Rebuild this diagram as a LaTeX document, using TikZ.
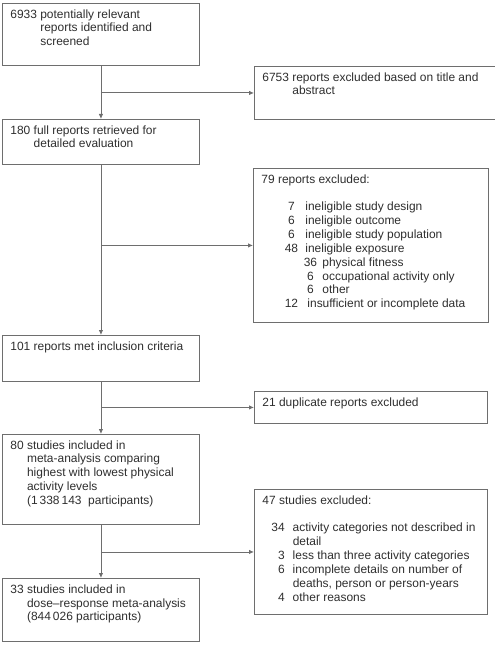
\documentclass[tikz,border=0pt]{standalone}
\usepackage{fontspec}
\setmainfont{Liberation Sans}
\usetikzlibrary{arrows.meta}

\definecolor{linegray}{HTML}{6E6E6E}
\definecolor{textgray}{HTML}{2E2E2E}

% box text, top aligned: width, height, body
\newcommand{\flowtext}[3]{\parbox[t][#2][t]{#1}{#3}}
% one excluded item: indent, number, text
\newcommand{\exitem}[4]{\hspace*{#1}\makebox[20bp][c]{#2}\hspace{#3}#4}

\tikzset{
  flowbox/.style={draw=linegray, line width=0.9bp, rectangle, anchor=north west,
    inner xsep=8bp, inner ysep=5bp, text=textgray, font=\fontsize{12}{13.9}\selectfont},
  flowarrow/.style={draw=linegray, line width=0.9bp, -{Latex[length=5bp, width=4.5bp]}}
}

\begin{document}
\begin{tikzpicture}[x=1bp, y=-1bp]
\useasboundingbox (0,0) rectangle (495,652);

% main column
\node[flowbox] at (2,3) (ident) {\flowtext{181bp}{52bp}{%
  \begin{tabular}[t]{@{}r@{ }l@{}}6933 & potentially relevant\\ & reports identified and\\ & screened\end{tabular}}};
\node[flowbox] at (2,119) (full) {\flowtext{181bp}{35bp}{%
  \begin{tabular}[t]{@{}r@{ }l@{}}180 & full reports retrieved for\\ & detailed evaluation\end{tabular}}};
\node[flowbox] at (2,335) (met) {\flowtext{181bp}{36bp}{%
  \begin{tabular}[t]{@{}l@{}}101 reports met inclusion criteria\end{tabular}}};
\node[flowbox] at (2,434) (hilo) {\flowtext{181bp}{80bp}{%
  \begin{tabular}[t]{@{}r@{ }l@{}}80 & studies included in\\ & meta-analysis comparing\\ & highest with lowest physical\\ & activity levels\\ & (1\,338\,143\ \ participants)\end{tabular}}};
\node[flowbox] at (2,578) (dose) {\flowtext{181bp}{53bp}{%
  \begin{tabular}[t]{@{}r@{ }l@{}}33 & studies included in\\ & dose--response meta-analysis\\ & (844\,026 participants)\end{tabular}}};

% excluded column
\node[flowbox] at (254,66) (exttl) {\flowtext{227bp}{43bp}{%
  \begin{tabular}[t]{@{}r@{ }l@{}}6753 & reports excluded based on title and\\ & abstract\end{tabular}}};
\node[flowbox] at (253,168) (exfull) {\flowtext{219bp}{144bp}{%
  \begin{tabular}[t]{@{}l@{}}79 reports excluded:\\
  \\
  \exitem{20bp}{7}{4bp}{ineligible study design}\\
  \exitem{20bp}{6}{4bp}{ineligible outcome}\\
  \exitem{20bp}{6}{4bp}{ineligible study population}\\
  \exitem{20bp}{48}{4bp}{ineligible exposure}\\
  \exitem{39bp}{36}{2bp}{physical fitness}\\
  \exitem{39bp}{6}{2bp}{occupational activity only}\\
  \exitem{39bp}{6}{2bp}{other}\\
  \exitem{20bp}{12}{6bp}{insufficient or incomplete data}\end{tabular}}};
\node[flowbox] at (254,391) (dup) {\flowtext{217bp}{22bp}{%
  \begin{tabular}[t]{@{}l@{}}21 duplicate reports excluded\end{tabular}}};
\node[flowbox] at (254,489) (exstud) {\flowtext{217bp}{115bp}{%
  \begin{tabular}[t]{@{\hspace{9bp}}r@{\hspace{8bp}}l@{}}\multicolumn{2}{@{}l@{}}{47 studies excluded:}\\
  & \\
  34 & activity categories not described in\\ & detail\\
  3 & less than three activity categories\\
  6 & incomplete details on number of\\ & deaths, person or person-years\\
  4 & other reasons\end{tabular}}};

% trunk
\draw[flowarrow] (ident.south) -- (full.north);
\draw[flowarrow] (full.south) -- (met.north);
\draw[flowarrow] (met.south) -- (hilo.north);
\draw[flowarrow] (hilo.south) -- (dose.north);

% exclusions
\draw[flowarrow] (ident.south |- exttl.west) -- (exttl.west);
\draw[flowarrow] (full.south |- exfull.west) -- (exfull.west);
\draw[flowarrow] (met.south |- dup.west) -- (dup.west);
\draw[flowarrow] (hilo.south |- exstud.west) -- (exstud.west);

\end{tikzpicture}
\end{document}
